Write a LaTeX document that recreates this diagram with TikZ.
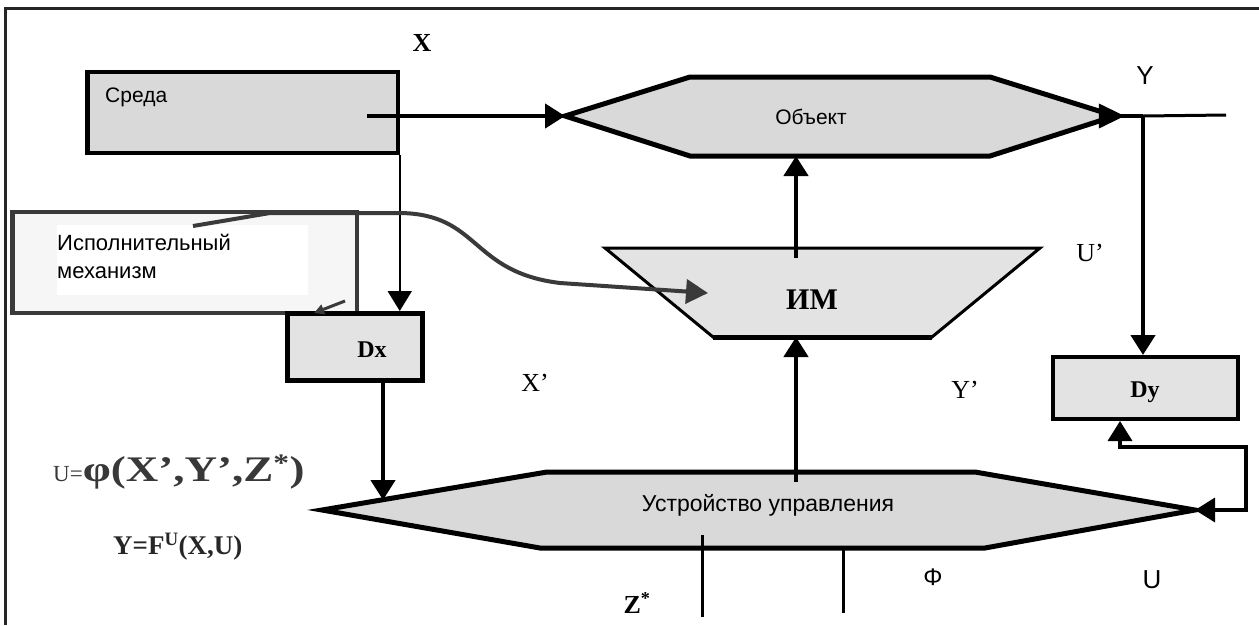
\documentclass[tikz,border=0pt]{standalone}
\usepackage{fontspec}
\setmainfont{Liberation Serif}
\newfontfamily\sansf{Liberation Sans}
\usetikzlibrary{arrows.meta,decorations.markings}
\definecolor{gA}{HTML}{D9D9D9}
\definecolor{gB}{HTML}{E3E3E3}
\definecolor{gC}{HTML}{F6F6F6}
\definecolor{dk}{HTML}{3A3A3A}
\tikzset{
  tipA/.tip={Triangle[length=20pt,width=24pt]},
  conn/.style={line width=4.5pt, -tipA},
  shapeA/.style={draw=black, line width=5pt, fill=gA, line join=miter},
  boxA/.style={draw=black, line width=4pt, fill=gB, inner sep=0pt},
  txt/.style={font=\sansf\fontsize{21}{28}\selectfont, inner sep=0pt},
  lab/.style={font=\fontsize{26}{28}\selectfont, inner sep=0pt},
  slab/.style={font=\sansf\fontsize{26}{28}\selectfont, inner sep=0pt},
}
\begin{document}
\begin{tikzpicture}[x=1pt,y=-1pt]
\useasboundingbox (0,0) rectangle (1259,625);
% frame
\draw[line width=3pt, black!85] (5,625) -- (5,8) -- (1259,8);

% coordinates
\coordinate (sredaOut) at (367,116);
\coordinate (yJ) at (1143,116);
\coordinate (yOut) at (1226,115);
\coordinate (objS) at (796,156);
\coordinate (imTop) at (796,258);
\coordinate (imS) at (796,337);
\coordinate (uuN) at (796,482);
\coordinate (uuIn) at (383,500);
\coordinate (imIn) at (708,293);
\coordinate (curveS) at (193,226);
\coordinate (hookS) at (345,301);
\coordinate (hookE) at (314,313);
\coordinate (fbA) at (1120,447);
\coordinate (fbB) at (1246,447);
\coordinate (fbC) at (1246,510);
\coordinate (zA) at (702,535);
\coordinate (zB) at (702,617);
\coordinate (fA) at (843,548);
\coordinate (fB) at (843,613);

% Среда
\node[draw=black, line width=3.5pt, fill=gA, minimum width=310pt, minimum height=81pt, inner sep=0pt] (sreda) at (243,112.5) {};
\draw[line width=5pt] ([xshift=1pt]sreda.north west) -- ([xshift=1pt]sreda.south west);
\node[txt, anchor=west] (sredaT) at (105,97) {Среда};

% Объект
\draw[shapeA] (565,116) coordinate (objL) -- (690,77) -- (990,77) -- (1115,116) coordinate (objR) -- (990,156) -- (690,156) -- cycle;
\node[txt] (objT) at (811,117) {Объект};

% Исполнительный механизм
\node[draw=dk, line width=4pt, fill=gC, minimum width=345pt, minimum height=101pt, inner sep=0pt] (isp) at (184.5,262.5) {};
\draw[dk, line width=5pt] ([xshift=2pt]isp.north west) -- ([xshift=2pt]isp.south west);
\fill[white] (57,225) rectangle (308,295);
\node[txt, font=\sansf\fontsize{22}{28}\selectfont, anchor=west, align=left] (ispT) at (57,256) {Исполнительный\\механизм};

% ИМ
\draw[fill=gB, line width=3pt, line join=miter] (605,248) -- (1040,248) -- (932,337) -- (713,337) -- cycle;
\draw[line width=5pt] (713,337) -- (932,337);
\node[font=\bfseries\fontsize{30}{30}\selectfont, inner sep=0pt] (imT) at (812,300) {ИМ};

% Dx, Dy
\node[boxA, line width=5pt, minimum width=135pt, minimum height=67pt] (dx) at (354.5,347) {};
\node[font=\bfseries\fontsize{24}{24}\selectfont, inner sep=0pt] (dxT) at (372,350) {Dx};
\node[boxA, minimum width=185pt, minimum height=62pt] (dy) at (1145.5,388) {};
\node[font=\bfseries\fontsize{24}{24}\selectfont, inner sep=0pt] (dyT) at (1145,392) {Dy};

% Устройство управления
\draw[shapeA] (322,510) coordinate (uuL) -- (547,472) -- (975,472) -- (1195,510) coordinate (uuR) -- (985,548) -- (540,548) -- cycle;
\node[txt, font=\sansf\fontsize{23}{28}\selectfont] (uuT) at (768,505) {Устройство управления};

% connectors
\draw[conn] (sredaOut) -- (objL);
\draw[line width=2pt, -tipA] (sreda.south east) -- (sreda.south east |- dx.north);
\draw[conn] (uuIn |- dx.south) -- (uuIn);
\draw[conn] (imTop) -- (objS);
\draw[conn] (uuN) -- (imS);
\draw[line width=4pt, postaction={decorate}, decoration={markings, mark=at position 0.35 with {\arrow{Triangle[length=26pt,width=24pt]}}}] (objR) -- (yJ);
\draw[line width=3pt] (yJ) -- (yOut);
\draw[line width=4.5pt, -tipA] (yJ) -- (yJ |- dy.north);
\draw[line width=3.5pt, tipA-tipA] (dy.south -| fbA) -- (fbA) -- (fbB) -- (fbC) -- (uuR);
\draw[line width=3pt] (zA) -- (zB);
\draw[line width=3pt] (fA) -- (fB);
\draw[dk, line width=4pt, -{Triangle[length=22pt,width=24pt]}] (curveS) -- (270,213) -- (400,213) .. controls (480,214) and (470,272) .. (560,283) -- (imIn);
\draw[dk, line width=3pt, -{Triangle[length=10pt,width=10pt]}] (hookS) -- (hookE);

% labels
\node[lab, font=\bfseries\fontsize{26}{28}\selectfont] (lX) at (422,43) {X};
\node[slab] (lY) at (1145,76) {Y};
\node[lab] (lUp) at (1090,253) {U’};
\node[lab] (lYp) at (965,390) {Y’};
\node[lab] (lXp) at (535,383) {X’};
\node[lab, font=\bfseries\fontsize{26}{28}\selectfont] (lZ) at (637,603) {Z\textsuperscript{*}};
\node[slab, font=\sansf\fontsize{24}{28}\selectfont] (lPhi) at (933,577) {Φ};
\node[slab] (lU) at (1152,580) {U};

% formulas
\node[anchor=west, inner sep=0pt, text=black!78] (f1) at (53,472) {\fontsize{23}{24}\selectfont U=\scalebox{1.25}[1]{\fontsize{36}{38}\selectfont\bfseries φ(X’,Y’,Z\textsuperscript{*})}};
\node[anchor=west, inner sep=0pt, text=black!85, font=\bfseries\fontsize{27}{30}\selectfont] (f2) at (113,547) {Y=F\textsuperscript{U}(X,U)};
\end{tikzpicture}
\end{document}
